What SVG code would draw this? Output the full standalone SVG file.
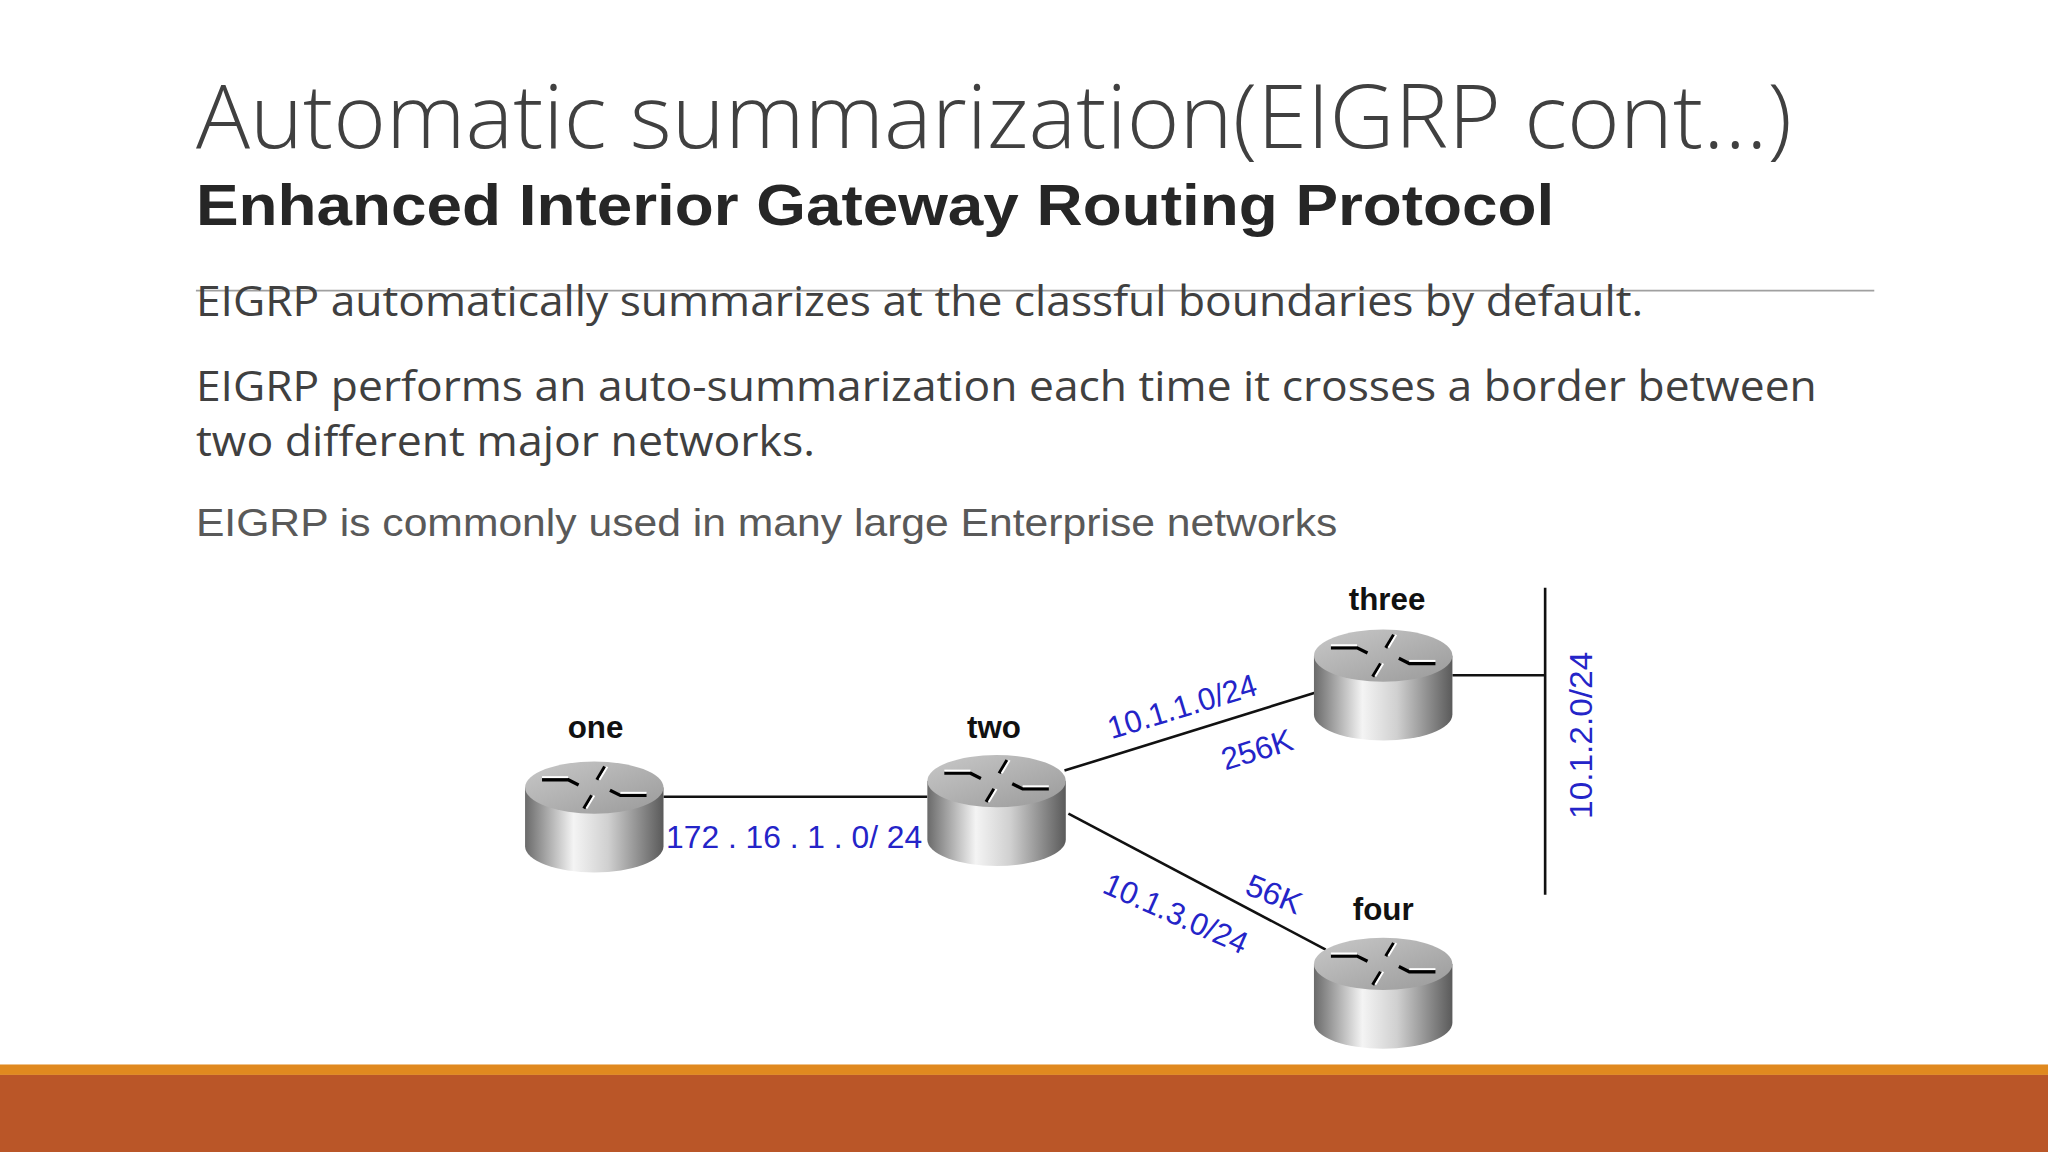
<svg xmlns="http://www.w3.org/2000/svg" width="2048" height="1152" viewBox="0 0 2048 1152">
<style>
.ttl{font-family:"Open Sans","Liberation Sans",sans-serif;font-weight:300;fill:#404040}
.sub{font-family:"Liberation Sans",Arial,sans-serif;font-weight:bold;fill:#262626}
.body{font-family:"Open Sans","Liberation Sans",sans-serif;fill:#404040}
.body3{font-family:"Liberation Sans",Arial,sans-serif;fill:#595959}
.name{font-family:"Liberation Sans",Arial,sans-serif;font-weight:bold;fill:#111;font-size:24px;text-anchor:middle}
.lbl{font-family:"Liberation Sans",Arial,sans-serif;fill:#2424c8;font-size:24px}
.wire{stroke:#111;stroke-width:2;fill:none}
</style>
<defs>
<linearGradient id="body" x1="0" y1="0" x2="1" y2="0">
<stop offset="0" stop-color="#6a6a6a"/><stop offset="0.35" stop-color="#f4f4f4"/><stop offset="0.6" stop-color="#d0d0d0"/><stop offset="1" stop-color="#5a5a5a"/>
</linearGradient>
<linearGradient id="top" x1="0" y1="0" x2="1" y2="1">
<stop offset="0" stop-color="#c8c8c8"/><stop offset="1" stop-color="#9a9a9a"/>
</linearGradient>
<g id="router">
<path d="M-53 0 V45 A53 20 0 0 0 53 45 V0 Z" fill="url(#body)"/>
<ellipse cx="0" cy="0" rx="53" ry="20" fill="url(#top)"/>
<g stroke="#000" stroke-width="2.5" fill="none">
<path d="M-40 -6 H-20 L-12 -2"/><path d="M40 6 H20 L12 2"/><path d="M8 -16 L2 -6"/><path d="M-8 16 L-2 6"/>
</g>
<g stroke="#fff" stroke-width="1.5" fill="none">
<path d="M-40 -8 H-20"/><path d="M40 4 H20"/><path d="M10 -16 L4 -6"/><path d="M-6 16 L0 6"/>
</g>
</g>
</defs>
<rect width="2048" height="1152" fill="#fff"/>
<g transform="scale(1.30612)">
<text class="ttl" x="150" y="113" font-size="68" textLength="1222" lengthAdjust="spacingAndGlyphs">Automatic summarization(EIGRP cont…)</text>
<text class="sub" x="150" y="172" font-size="44" textLength="1040" lengthAdjust="spacingAndGlyphs">Enhanced Interior Gateway Routing Protocol</text>
<line x1="150" y1="222.5" x2="1435" y2="222.5" stroke="#a0a0a0" stroke-width="1.5"/>
<text class="body" x="150" y="242" font-size="32" textLength="1108" lengthAdjust="spacingAndGlyphs">EIGRP automatically summarizes at the classful boundaries by default.</text>
<text class="body" x="150" y="307" font-size="32" textLength="1241" lengthAdjust="spacingAndGlyphs">EIGRP performs an auto-summarization each time it crosses a border between</text>
<text class="body" x="150" y="349" font-size="32" textLength="474" lengthAdjust="spacingAndGlyphs">two different major networks.</text>
<text class="body3" x="150" y="410" font-size="30" textLength="874" lengthAdjust="spacingAndGlyphs">EIGRP is commonly used in many large Enterprise networks</text>

<g id="connectors">
<line class="wire" x1="508" y1="610" x2="710" y2="610"/>
<line class="wire" x1="815" y1="590" x2="1008" y2="530"/>
<line class="wire" x1="818" y1="623" x2="1015" y2="727"/>
<line class="wire" x1="1112" y1="517" x2="1183" y2="517"/>
<line class="wire" x1="1183" y1="450" x2="1183" y2="685"/>
</g>
<g id="one"><use href="#router" x="455" y="603"/><text class="name" x="456" y="565">one</text></g>
<g id="two"><use href="#router" x="763" y="598"/><text class="name" x="761" y="565">two</text></g>
<g id="three"><use href="#router" x="1059" y="502"/><text class="name" x="1062" y="467">three</text></g>
<g id="four"><use href="#router" x="1059" y="738"/><text class="name" x="1059" y="704">four</text></g>
<g id="labels">
<text class="lbl" x="510" y="649" textLength="196" lengthAdjust="spacingAndGlyphs">172 . 16 . 1 . 0/ 24</text>
<text class="lbl" transform="translate(851,566) rotate(-17)" textLength="118" lengthAdjust="spacingAndGlyphs">10.1.1.0/24</text>
<text class="lbl" transform="translate(938,590) rotate(-17)" textLength="56" lengthAdjust="spacingAndGlyphs">256K</text>
<text class="lbl" transform="translate(952,684) rotate(22)" textLength="44" lengthAdjust="spacingAndGlyphs">56K</text>
<text class="lbl" transform="translate(843,683) rotate(24)" textLength="118" lengthAdjust="spacingAndGlyphs">10.1.3.0/24</text>
<text class="lbl" transform="translate(1219,627) rotate(-90)" textLength="128" lengthAdjust="spacingAndGlyphs">10.1.2.0/24</text>
</g>
<rect x="0" y="815" width="1568" height="8" fill="#e0891f"/>
<rect x="0" y="823" width="1568" height="59" fill="#ba5628"/>
</g>
</svg>
